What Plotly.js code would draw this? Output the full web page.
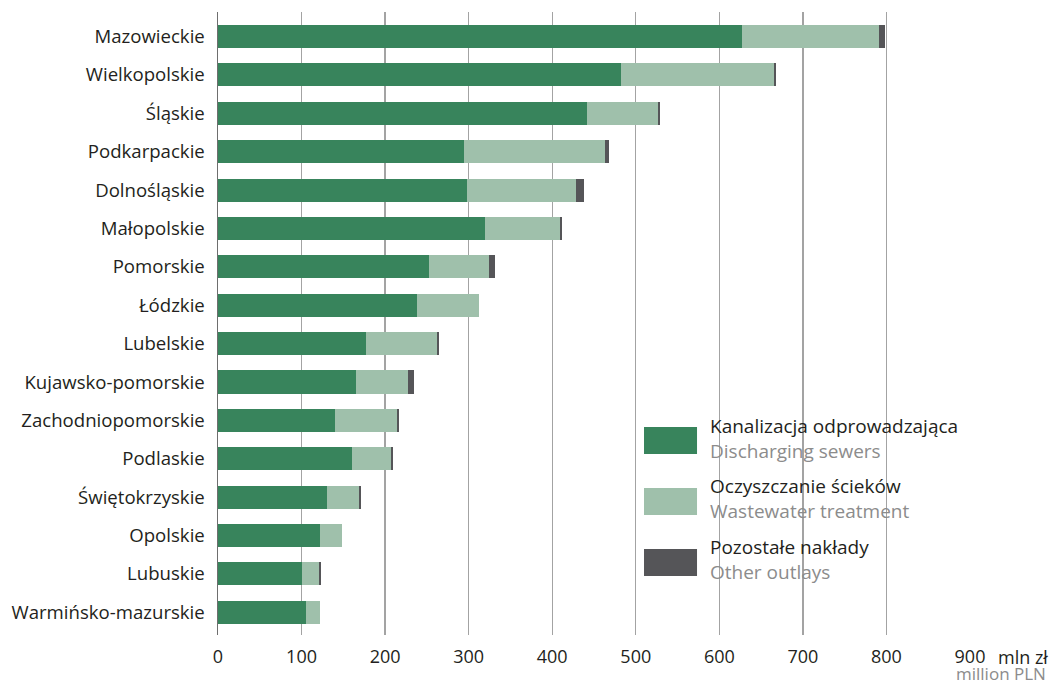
<!DOCTYPE html>
<html>
<head>
<meta charset="utf-8">
<script src="https://cdn.plot.ly/plotly-3.0.1.min.js"></script>
<style>
  html, body { margin: 0; padding: 0; background: #fff; }
  #chart { width: 1051px; height: 685px; }
</style>
</head>
<body>
<div id="chart"></div>
<script>
// ---- Data (mln zł) ----
const regions = [
  "Mazowieckie", "Wielkopolskie", "Śląskie", "Podkarpackie", "Dolnośląskie",
  "Małopolskie", "Pomorskie", "Łódzkie", "Lubelskie", "Kujawsko-pomorskie",
  "Zachodniopomorskie", "Podlaskie", "Świętokrzyskie", "Opolskie", "Lubuskie",
  "Warmińsko-mazurskie"
];
const dischargingSewers = [627, 482, 442, 294, 298, 319, 252, 238, 177, 165, 140, 160, 131, 122, 101, 105];
const wastewaterTreatment = [164, 183, 85, 169, 131, 90, 72, 74, 85, 62, 74, 47, 38, 26, 20, 17];
const otherOutlays = [7, 2.4, 2.4, 4.7, 9.6, 2.4, 7, 0, 2.4, 7, 2.4, 2.4, 2.4, 0, 2.4, 0];
const seriesNamesPl = ["Kanalizacja odprowadzająca", "Oczyszczanie ścieków", "Pozostałe nakłady"];
const seriesNamesEn = ["Discharging sewers", "Wastewater treatment", "Other outlays"];
const xTickValues = [0, 100, 200, 300, 400, 500, 600, 700, 800, 900];
const unitPl = "mln zł";
const unitEn = "million PLN";

// ---- Styles ----
const colors = ["#38845c", "#9fc0ab", "#555558"];
const textColor = "#231f20";
const subColor = "#8c8c8c";
const fontFamily = "'Open Sans', 'Noto Sans', sans-serif";

const seriesValues = [dischargingSewers, wastewaterTreatment, otherOutlays];
const traces = seriesValues.map((vals, i) => ({
  type: "bar",
  orientation: "h",
  y: regions,
  x: vals,
  name: seriesNamesPl[i],
  marker: { color: colors[i], line: { width: 0 } },
  hoverinfo: "x+y+name"
}));

// Custom legend (swatches + two-line labels)
const legendX0 = 0.5665, legendX1 = 0.637;
const swatchTops = [0.3339, 0.2360, 0.1380];
const swatchH = 0.0434;
const labelY = [0.3162, 0.2183, 0.1204];

const shapes = [{
  type: "rect", xref: "paper", yref: "paper",
  x0: 0.5585, x1: 0.9947, y0: 0.077, y1: 0.3612,
  fillcolor: "#ffffff", line: { width: 0 }, layer: "between"
}];
const annotations = [];
seriesNamesPl.forEach((nm, i) => {
  shapes.push({
    type: "rect", xref: "paper", yref: "paper",
    x0: legendX0, x1: legendX1, y0: swatchTops[i] - swatchH, y1: swatchTops[i],
    fillcolor: colors[i], line: { width: 0 }, layer: "between"
  });
  annotations.push({
    xref: "paper", yref: "paper", x: 0.6516, y: labelY[i],
    xanchor: "left", yanchor: "middle", align: "left", showarrow: false,
    text: nm + "<br><span style='color:" + subColor + "'>" + seriesNamesEn[i] + "</span>",
    font: { family: fontFamily, size: 19, color: textColor }
  });
});
annotations.push({
  xref: "paper", yref: "paper", x: 1.0345, y: -0.0353,
  xanchor: "left", yanchor: "middle", showarrow: false, text: unitPl,
  font: { family: fontFamily, size: 18, color: textColor }
});
annotations.push({
  xref: "paper", yref: "paper", x: 1.1037, y: -0.0610,
  xanchor: "right", yanchor: "middle", showarrow: false, text: unitEn,
  font: { family: fontFamily, size: 17, color: subColor }
});

const layout = {
  width: 1051, height: 685,
  margin: { l: 218, r: 81, t: 12, b: 50, pad: 0 },
  paper_bgcolor: "#ffffff", plot_bgcolor: "#ffffff",
  barmode: "stack",
  bargap: 0.4,
  showlegend: false,
  font: { family: fontFamily, color: textColor },
  xaxis: {
    range: [0, 900],
    tickvals: xTickValues,
    ticktext: xTickValues.map(String),
    showgrid: true, gridcolor: "#a3a3a3", gridwidth: 1.4,
    zeroline: false, showline: false, ticks: "",
    ticklabelstandoff: 9,
    tickfont: { family: fontFamily, size: 18, color: textColor },
    fixedrange: true
  },
  yaxis: {
    type: "category",
    categoryorder: "array", categoryarray: regions,
    range: [15.59, -0.638],
    showgrid: false, zeroline: false,
    showline: true, linecolor: "#6e6e6e", linewidth: 1.5,
    ticks: "", ticklabelstandoff: 8,
    tickfont: { family: fontFamily, size: 18.6, color: textColor },
    fixedrange: true
  },
  shapes: shapes,
  annotations: annotations
};

Plotly.newPlot("chart", traces, layout, { displayModeBar: false, staticPlot: true });
</script>
</body>
</html>
